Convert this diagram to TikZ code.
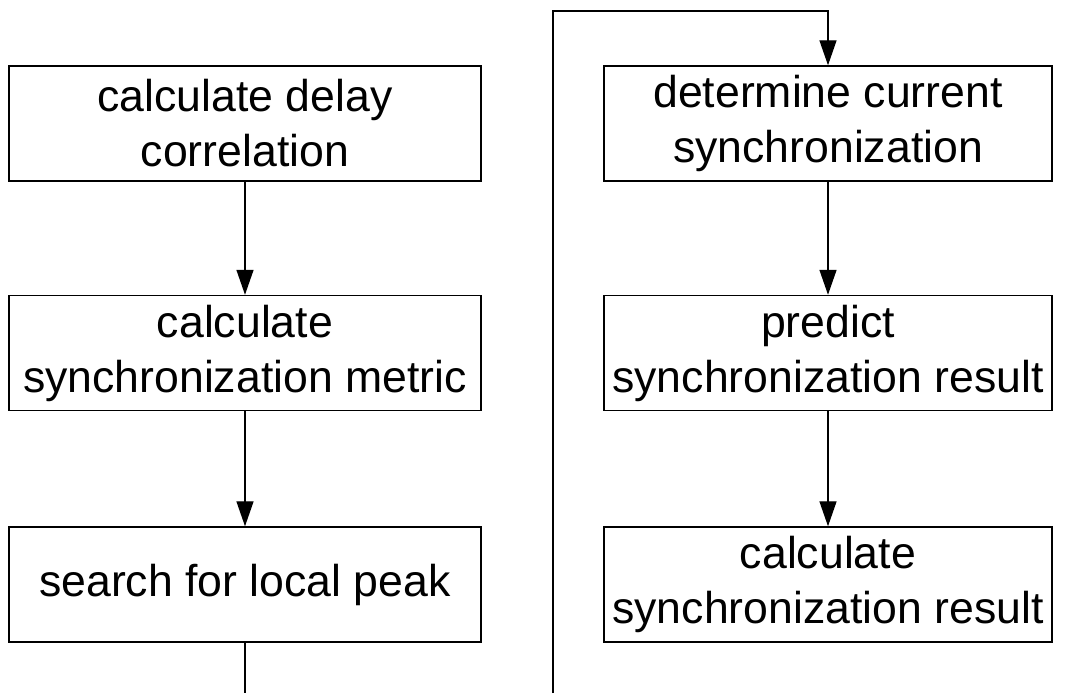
\documentclass[tikz,border=0pt]{standalone}
\usepackage{fontspec}
\setmainfont{Liberation Sans}
\usetikzlibrary{arrows.meta}

\begin{document}
\begin{tikzpicture}[x=1pt,y=1pt]
        \tikzset{Box/.style={draw,line width=1.4pt,inner sep=0pt,align=center,
                             font=\fontsize{44.6}{55}\selectfont},
                 LBox/.style={Box,minimum width=472,minimum height=115},
                 RBox/.style={Box,minimum width=448,minimum height=115},
                 EdgeStyle/.style={line width=1.4pt,-{Triangle[length=25pt,width=17pt]}}}

        \useasboundingbox (0,0) rectangle (1067,693);

        \node[LBox] (L1) at (245,569.5) {calculate delay\\correlation};
        \node[LBox] (L2) at (245,340)   {calculate\\synchronization metric};
        \node[LBox] (L3) at (245,108.5) {search for local peak};

        \node[RBox] (R1) at (828,569.5) {determine current\\synchronization};
        \node[RBox] (R2) at (828,340)   {predict\\synchronization result};
        \node[RBox] (R3) at (828,108.5) {calculate\\synchronization result};

        \coordinate (LOut) at (245,0);
        \coordinate (RIn)  at (553,0);
        \coordinate (RTop) at (553,682);

        \draw[EdgeStyle] (L1) -- (L2);
        \draw[EdgeStyle] (L2) -- (L3);
        \draw[line width=1.4pt] (L3) -- (LOut);

        \draw[EdgeStyle] (RIn) -- (RTop) -| (R1);
        \draw[EdgeStyle] (R1) -- (R2);
        \draw[EdgeStyle] (R2) -- (R3);
    \end{tikzpicture}
\end{document}
